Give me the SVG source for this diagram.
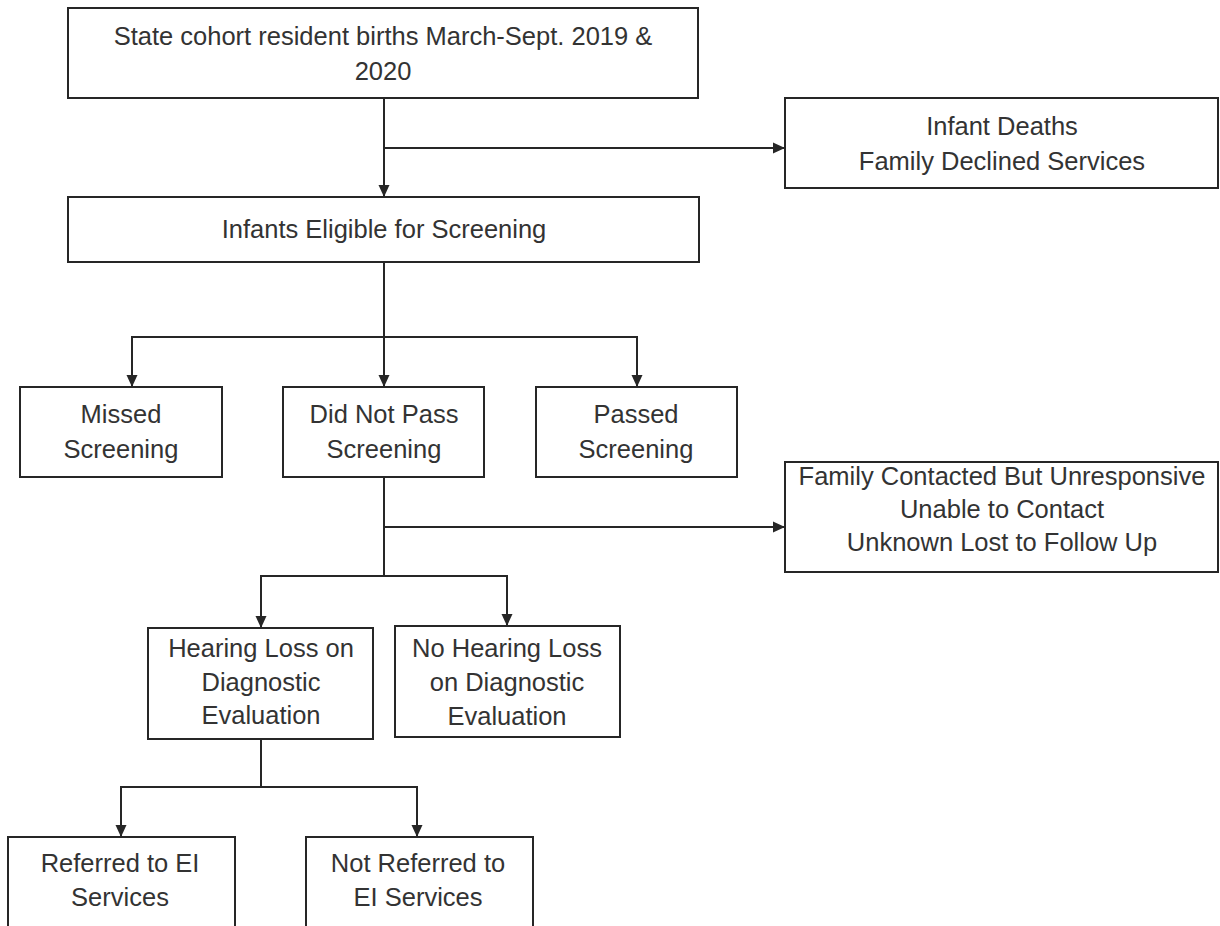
<svg xmlns="http://www.w3.org/2000/svg" width="1220" height="926" viewBox="0 0 1220 926">
<style>
  .box { fill: #ffffff; stroke: #262626; stroke-width: 2; }
  .lbl { font-family: "Liberation Sans", Arial, sans-serif; font-size: 25.5px; fill: #333333; text-anchor: middle; }
  .conn { fill: none; stroke: #262626; stroke-width: 2; }
  .arr { marker-end: url(#ah); }
</style>
<defs>
  <marker id="ah" markerUnits="userSpaceOnUse" markerWidth="12" markerHeight="12" viewBox="0 0 12 12" refX="12" refY="6" orient="auto">
    <path d="M0,0.5 L12,6 L0,11.5 Z" fill="#262626"/>
  </marker>
</defs>
<rect width="1220" height="926" fill="#ffffff"/>

<g id="connectors">
  <line class="conn arr" x1="384" y1="98" x2="384" y2="197"/>
  <line class="conn arr" x1="384" y1="148" x2="785" y2="148"/>
  <line class="conn arr" x1="384" y1="262" x2="384" y2="387"/>
  <polyline class="conn arr" points="384,337 132,337 132,387"/>
  <polyline class="conn arr" points="384,337 637,337 637,387"/>
  <line class="conn" x1="384" y1="477" x2="384" y2="576"/>
  <line class="conn arr" x1="384" y1="527" x2="785" y2="527"/>
  <polyline class="conn arr" points="384,576 261,576 261,628"/>
  <polyline class="conn arr" points="384,576 507,576 507,626"/>
  <line class="conn" x1="261" y1="739" x2="261" y2="787"/>
  <polyline class="conn arr" points="261,787 121,787 121,837"/>
  <polyline class="conn arr" points="261,787 417,787 417,837"/>
</g>

<g id="n-births">
  <rect class="box" x="68" y="8" width="630" height="90"/>
  <text class="lbl" x="383" y="45">State cohort resident births March-Sept. 2019 &amp;</text>
  <text class="lbl" x="383" y="80">2020</text>
</g>
<g id="n-excluded">
  <rect class="box" x="785" y="98" width="433" height="90"/>
  <text class="lbl" x="1002" y="135">Infant Deaths</text>
  <text class="lbl" x="1002" y="170">Family Declined Services</text>
</g>
<g id="n-eligible">
  <rect class="box" x="68" y="197" width="631" height="65"/>
  <text class="lbl" x="384" y="238">Infants Eligible for Screening</text>
</g>
<g id="n-missed">
  <rect class="box" x="20" y="387" width="202" height="90"/>
  <text class="lbl" x="121" y="423">Missed</text>
  <text class="lbl" x="121" y="458">Screening</text>
</g>
<g id="n-didnotpass">
  <rect class="box" x="283" y="387" width="201" height="90"/>
  <text class="lbl" x="384" y="423">Did Not Pass</text>
  <text class="lbl" x="384" y="458">Screening</text>
</g>
<g id="n-passed">
  <rect class="box" x="536" y="387" width="201" height="90"/>
  <text class="lbl" x="636" y="423">Passed</text>
  <text class="lbl" x="636" y="458">Screening</text>
</g>
<g id="n-lost">
  <rect class="box" x="785" y="462" width="433" height="110"/>
  <text class="lbl" x="1002" y="485">Family Contacted But Unresponsive</text>
  <text class="lbl" x="1002" y="518">Unable to Contact</text>
  <text class="lbl" x="1002" y="551">Unknown Lost to Follow Up</text>
</g>
<g id="n-hearingloss">
  <rect class="box" x="148" y="628" width="225" height="111"/>
  <text class="lbl" x="261" y="657">Hearing Loss on</text>
  <text class="lbl" x="261" y="691">Diagnostic</text>
  <text class="lbl" x="261" y="724">Evaluation</text>
</g>
<g id="n-nohearingloss">
  <rect class="box" x="395" y="626" width="225" height="111"/>
  <text class="lbl" x="507" y="657">No Hearing Loss</text>
  <text class="lbl" x="507" y="691">on Diagnostic</text>
  <text class="lbl" x="507" y="725">Evaluation</text>
</g>
<g id="n-referred">
  <rect class="box" x="8" y="837" width="227" height="110"/>
  <text class="lbl" x="120" y="872">Referred to EI</text>
  <text class="lbl" x="120" y="906">Services</text>
</g>
<g id="n-notreferred">
  <rect class="box" x="306" y="837" width="227" height="110"/>
  <text class="lbl" x="418" y="872">Not Referred to</text>
  <text class="lbl" x="418" y="906">EI Services</text>
</g>
</svg>
